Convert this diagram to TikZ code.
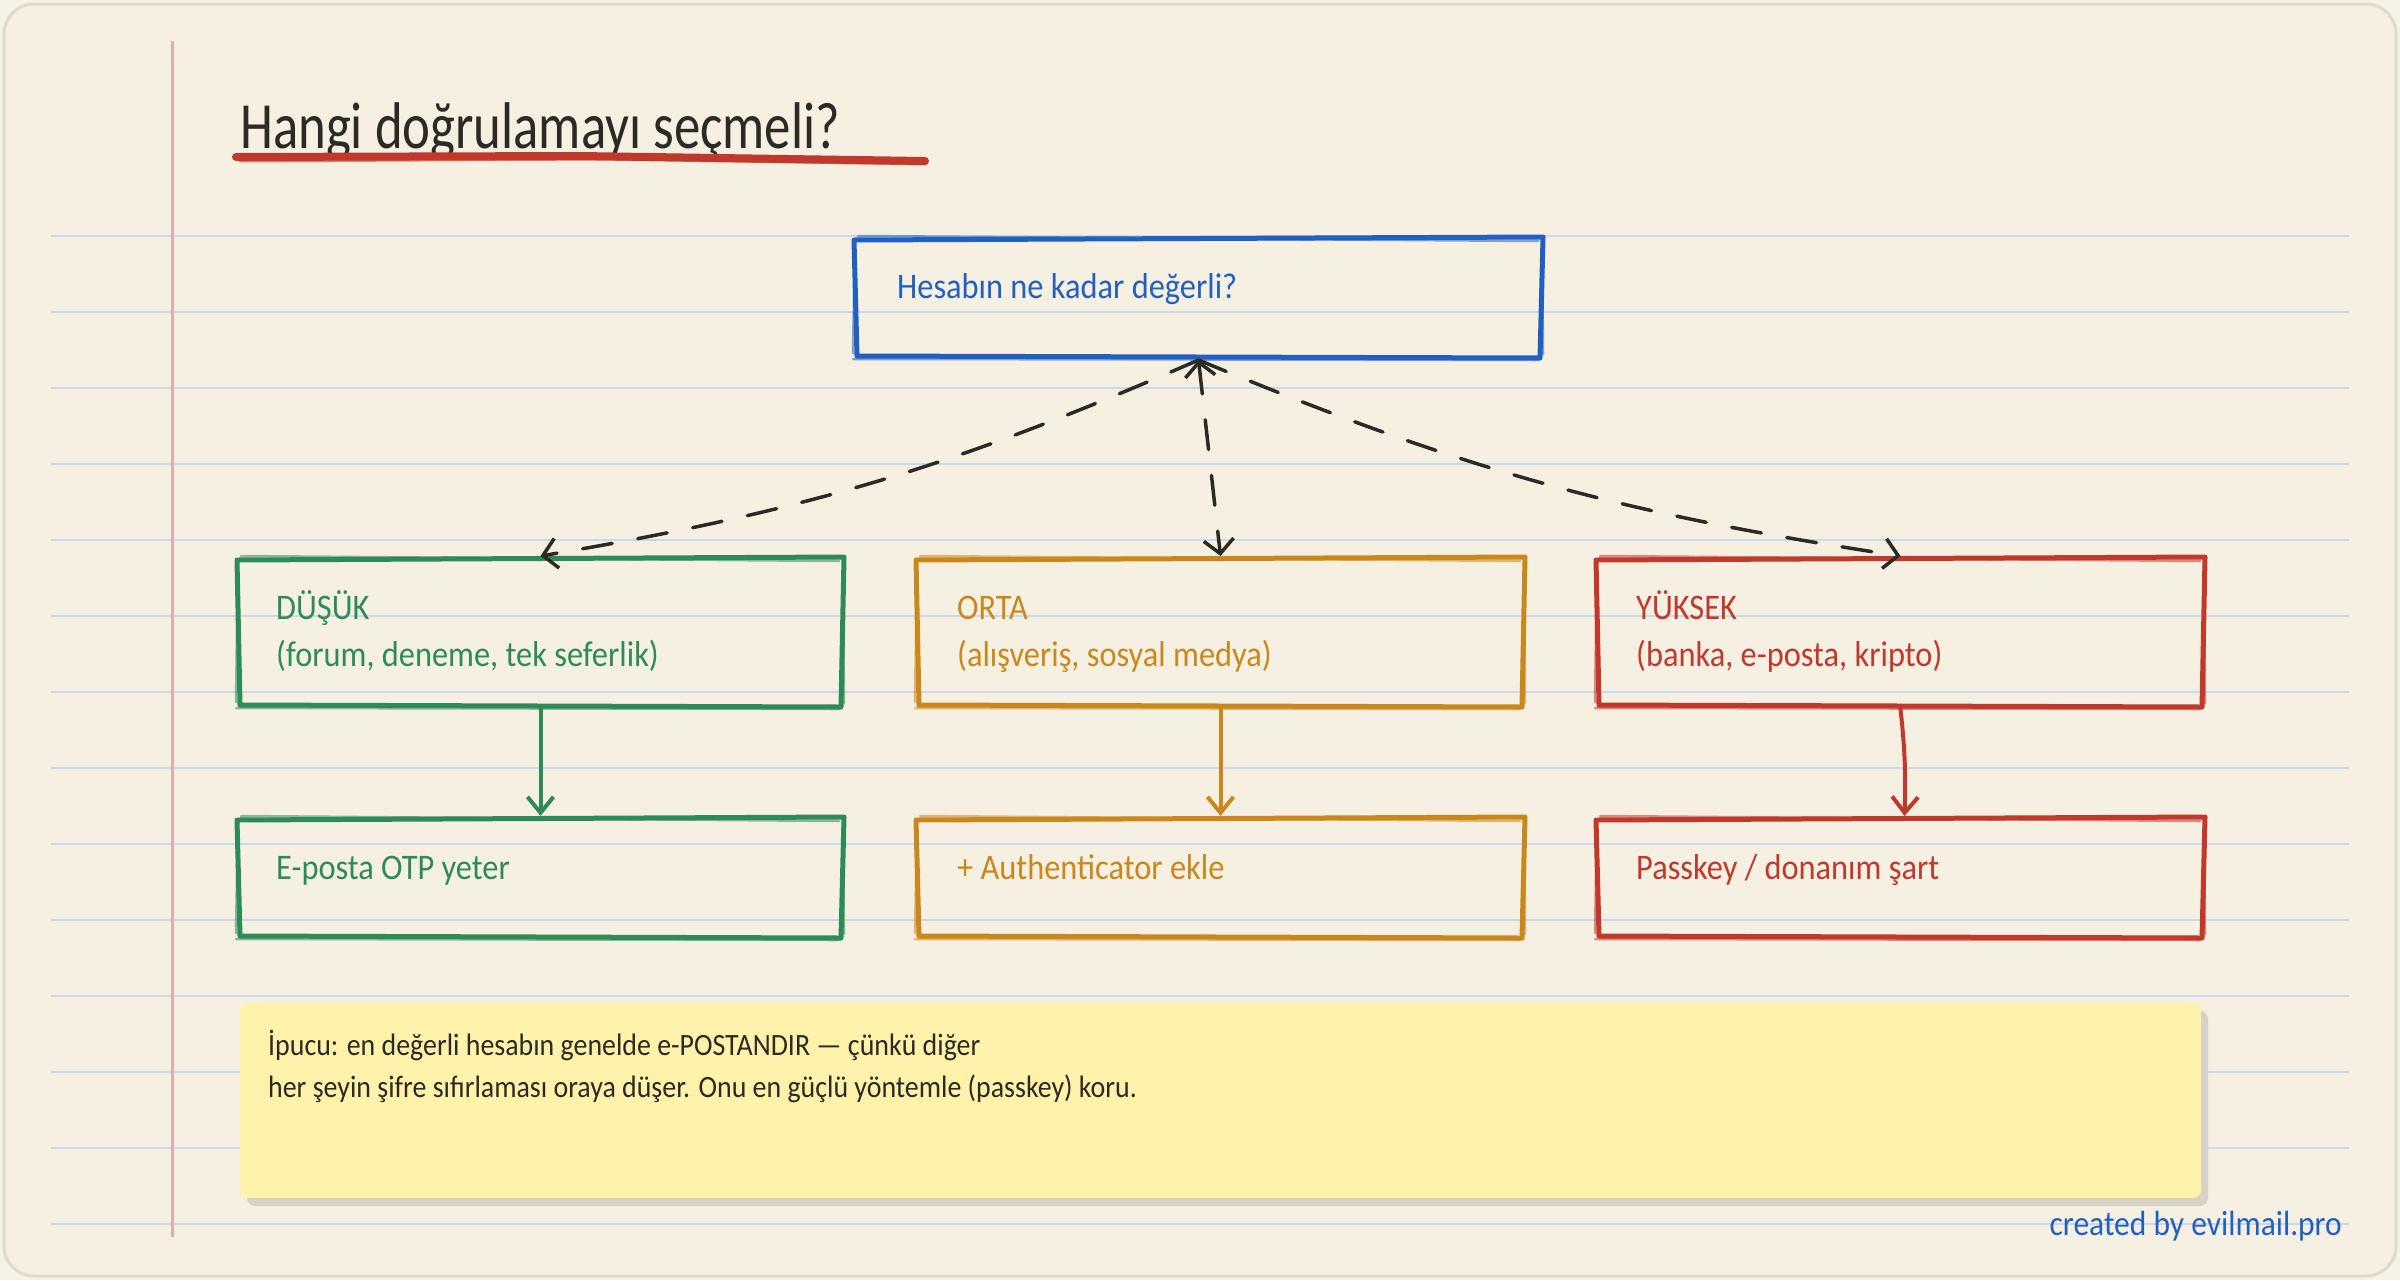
\documentclass[tikz,border=0pt]{standalone}
\usepackage{fontspec}
\setmainfont{Carlito}[FakeStretch=0.9]
\newfontfamily\titlefont{Carlito}[FakeStretch=0.8]
\usetikzlibrary{arrows.meta}
\definecolor{pagebg}{RGB}{247,242,230}
\definecolor{cardbg}{RGB}{246,240,227}
\definecolor{cardline}{RGB}{222,218,205}
\definecolor{ruleblue}{RGB}{201,216,236}
\definecolor{marginred}{RGB}{228,170,170}
\definecolor{inkdark}{RGB}{43,42,36}
\definecolor{skblue}{RGB}{33,96,192}
\definecolor{skgreen}{RGB}{46,139,87}
\definecolor{skorange}{RGB}{202,136,28}
\definecolor{skred}{RGB}{192,57,43}
\definecolor{tipyellow}{RGB}{255,242,170}
\definecolor{tipshadow}{RGB}{216,210,196}
\tikzset{
  x=1pt, y=-1pt,
  boxnode/.style={draw=none, inner sep=0pt, outer sep=3pt},
  txt/.style={anchor=base west, inner sep=0pt, align=left},
  bodytext/.style={txt, font=\fontsize{36}{47}\selectfont},
  rulestyle/.style={ruleblue, line width=2},
  dasharrow/.style={inkdark, line width=3.5, dash pattern=on 30pt off 26pt, line cap=round,
    -{Straight Barb[length=14pt,width=30pt,line width=3.5pt]}},
  solidarrow/.style={line width=4, line cap=round,
    -{Straight Barb[length=16pt,width=26pt,line width=4pt]}},
}
\newcommand{\skbox}[6]{%
  \node[boxnode, minimum width={(#4-#2)*1pt}, minimum height={(#5-#3)*1pt}] (#1) at ({(#2+#4)/2},{(#3+#5)/2}) {};
  \draw[#6, line width=5, line cap=round, line join=round]
    (#2-2,#3+1) -- (#4+2,#3-2) -- (#4-1,#5+1) -- (#2+1,#5-1) -- cycle;
  \draw[#6, line width=2.5, line cap=round, opacity=0.55]
    (#2+2,#3-3) -- (#4-3,#3+2) (#4+1,#3+4) -- (#4+2,#5-3)
    (#4-4,#5+3) -- (#2-3,#5+2) (#2-3,#5-4) -- (#2-1,#3+3);
}
\begin{document}
\begin{tikzpicture}
\fill[pagebg] (0,0) rectangle (2400,1280);
\useasboundingbox (0,0) rectangle (2400,1280);
\draw[fill=cardbg, draw=cardline, line width=3, rounded corners=30] (4,4) rectangle (2396,1276);
% ruled lines
\foreach \yy in {236,312,...,1224} \draw[rulestyle] (51,\yy) -- (2349,\yy);
% margin
\draw[marginred, line width=3] (172,41) -- (172,1237);
% title
\node[txt, text=inkdark, font=\titlefont\fontsize{66}{72}\selectfont] (title) at (240,148) {Hangi doğrulamayı seçmeli?};
\draw[skred, line width=8, line cap=round] (236,157) -- (580,156) -- (925,161);
\draw[skred, line width=3, line cap=round, opacity=0.6] (240,161) -- (600,159) -- (926,164);
% boxes
\skbox{top}{856}{239}{1541}{357}{skblue}
\skbox{low}{239}{559}{842}{706}{skgreen}
\skbox{mid}{918}{559}{1523}{706}{skorange}
\skbox{high}{1598}{559}{2203}{706}{skred}
\skbox{lowres}{239}{819}{842}{937}{skgreen}
\skbox{midres}{918}{819}{1523}{937}{skorange}
\skbox{highres}{1598}{819}{2203}{937}{skred}
% texts (base anchor of a two-line node = baseline of its last line)
\node[bodytext, text=skblue] (toptext) at (897,298) {Hesabın ne kadar değerli?};
\node[bodytext, text=skgreen] (lowtext) at (276,666) {DÜŞÜK\\(forum, deneme, tek seferlik)};
\node[bodytext, text=skorange] (midtext) at (957,666) {ORTA\\(alışveriş, sosyal medya)};
\node[bodytext, text=skred] (hightext) at (1636,666) {YÜKSEK\\(banka, e-posta, kripto)};
\node[bodytext, text=skgreen] (lowrestext) at (276,879) {E-posta OTP yeter};
\node[bodytext, text=skorange] (midrestext) at (957,879) {+ Authenticator ekle};
\node[bodytext, text=skred] (highrestext) at (1636,879) {Passkey / donanım şart};
% connectors
\draw[dasharrow] (top.south) to[bend left=7] (low.north);
\draw[dasharrow, {Straight Barb[length=14pt,width=30pt,line width=3.5pt]}-{Straight Barb[length=14pt,width=30pt,line width=3.5pt]}] (top.south) -- (mid.north);
\draw[dasharrow] (top.south) to[bend right=7] (high.north);
\draw[solidarrow, skgreen] (low.south) -- (lowres.north);
\draw[solidarrow, skorange] (mid.south) -- (midres.north);
\draw[solidarrow, skred] (high.south) to[bend left=4] ([xshift=4pt]highres.north);
% tip
\fill[tipshadow, rounded corners=8] (247,1011) rectangle (2208,1206);
\node[boxnode, fill=tipyellow, rounded corners=8, minimum width=1961pt, minimum height=195pt, outer sep=0pt] (tip) at (1220.5,1100.5) {};
\node[txt, text=inkdark, font=\fontsize{31}{42}\selectfont] (tiptext) at (268,1097) {İpucu: en değerli hesabın genelde e-POSTANDIR — çünkü diğer\\her şeyin şifre sıfırlaması oraya düşer. Onu en güçlü yöntemle (passkey) koru.};
% credit
\node[anchor=base east, inner sep=0pt, text=skblue, font=\fontsize{35}{40}\selectfont] (credit) at (2342,1235) {created by evilmail.pro};
\end{tikzpicture}
\end{document}
